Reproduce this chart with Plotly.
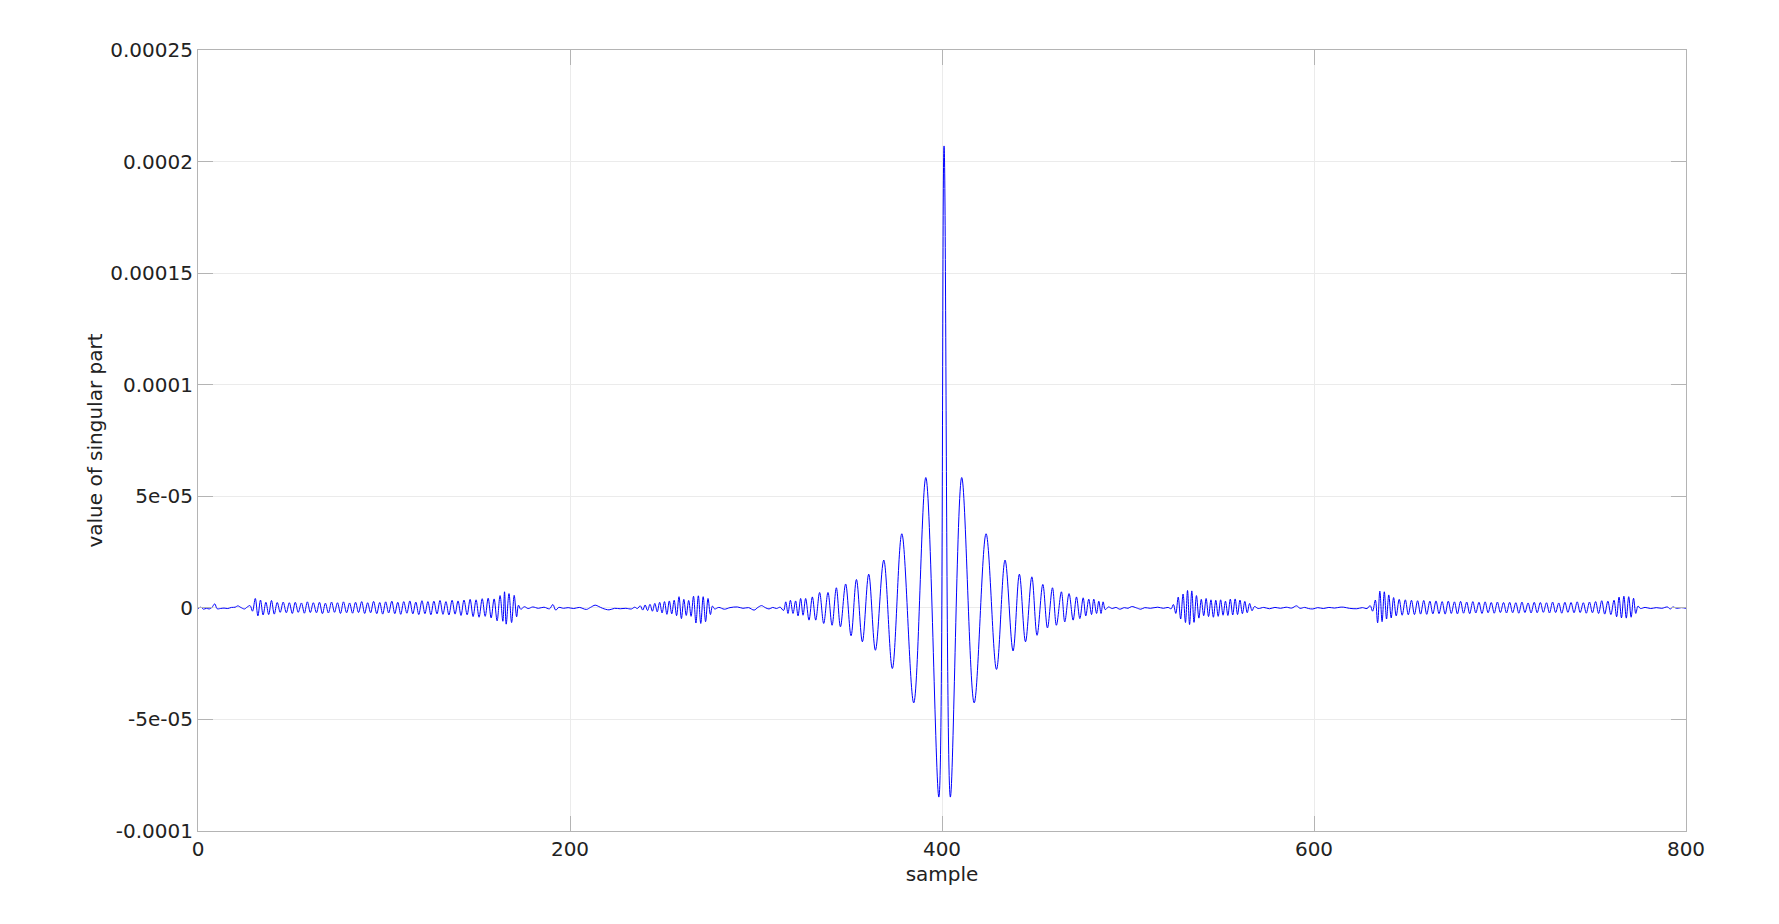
import plotly.graph_objects as go

# values in units of 1e-6 ; x in samples
UNIT = 1e-6

noise_a_x = [0, 1.5, 3, 4.5, 6, 7.5, 9, 10.3, 12, 14, 16, 18, 20, 21.4, 23, 25, 26.5]
noise_a_y = [-0.3, 0.3, -0.6, -0.2, -0.5, 0.2, 1.8, -0.4, -0.3, -0.1, -0.3, 0.2, 0.3, 0.9, 0.2, -0.5, 0.4]

left_start_x = [28.0, 29.3, 30.8, 32.2, 33.6, 35.0, 36.5, 38.0, 39.5, 41.0]
left_start_y = [1.0, -1.5, 4.2, -3.6, 3.5, -3.2, 2.5, -3.0, 3.3, -2.8]

left_band_x = [42.6, 44.2, 45.8, 47.5, 49.1, 50.7, 52.3, 53.9, 55.6, 57.2, 58.8, 60.4, 62.0, 63.7,
               65.3, 66.9, 68.5, 70.1, 71.8, 73.4, 75.0, 76.6, 78.2, 79.9, 81.5, 83.1, 84.7, 86.3,
               88.0, 89.6, 91.2, 92.8, 94.4, 96.1, 97.7, 99.3, 100.9, 102.5, 104.2, 105.8, 107.4,
               109.0, 110.6, 112.3, 113.9, 115.5, 117.1, 118.7, 120.4, 122.0, 123.6, 125.2, 126.8,
               128.5, 130.1, 131.7, 133.3, 134.9, 136.6, 138.2, 139.8, 141.4, 143.0, 144.7, 146.3,
               147.9, 149.5, 151.1, 152.8, 154.4, 156.0, 157.6, 159.2]
left_band_y = [2.4, -2.0, 2.6, -2.2, 2.3, -2.5, 2.5, -2.0, 2.2, -2.4,
               2.7, -2.1, 2.3, -2.2, 2.5, -2.6, 2.1, -2.3, 2.6, -2.0,
               2.3, -2.5, 2.7, -2.2, 2.2, -2.4, 2.5, -2.1, 2.8, -2.5,
               2.3, -2.2, 2.9, -2.6, 2.4, -2.8, 2.7, -2.3, 3.0, -2.6,
               2.5, -2.9, 2.8, -2.4, 3.1, -2.7, 2.6, -3.0, 3.2, -2.6,
               2.8, -3.1, 3.0, -2.7, 3.3, -2.9, 2.8, -3.2, 3.4, -2.8,
               3.1, -3.4, 3.5, -3.1, 3.8, -3.9, 3.6, -4.2, 4.1, -3.8,
               4.3, -4.5, 4.0]

left_end_x = [160.8, 162.4, 163.9, 164.8, 165.7, 167.2, 168.6, 170.0, 171.3, 172.3, 173.5]
left_end_y = [-5.8, 5.5, -6.0, 7.2, -7.3, 6.4, -6.6, 5.6, -4.0, 1.2, -0.6]

noise_b_x = [175.5, 177.5, 180, 183, 186, 189, 190.8, 192.3, 194, 196.5, 199, 202, 205, 208.8,
             211, 213.5, 215.5, 217.5, 221, 224, 227, 230, 233, 234.8, 236.2]
noise_b_y = [0.5, -0.3, 0.4, -0.2, 0.3, -0.4, 1.5, -1.0, 0.2, -0.2, 0.1, -0.3, 0.2, -0.7,
             0.2, 1.2, 0.6, -0.2, -0.9, -0.2, -0.4, -0.2, -0.5, 0.3, -0.3]

left_mid_x = [237.8, 239.1, 240.4, 241.7, 243.0, 244.3, 245.6, 246.9, 248.2, 249.5, 250.8, 252.1,
              253.4, 254.7, 256.0, 257.3, 258.6, 259.9, 261.2, 262.5, 263.8, 265.1, 266.4, 267.7,
              269.0, 270.3, 271.6, 272.9, 274.2, 275.5, 276.6, 277.8]
left_mid_y = [0.9, -1.0, 1.3, -1.2, 1.6, -1.5, 2.0, -1.8, 2.5, -2.3, 2.8, -2.9,
              3.1, -2.7, 3.4, -3.5, 5.0, -4.8, 3.8, -3.4, 3.3, -3.8, 5.2, -6.8,
              5.4, -7.0, 5.0, -6.2, 4.2, -3.0, 0.8, -0.5]

noise_c_x = [280, 283, 286, 290, 293, 296, 299, 301, 303, 305, 307, 309, 311, 313]
noise_c_y = [0.2, -0.6, 0.1, 0.4, -0.2, 0.1, -1.0, 0.2, 1.0, 0.1, -0.5, 0.2, -0.3, 0.3]

center_x = [314.8, 316.0, 317.2, 318.5, 319.9, 321.3, 322.6, 324.0, 325.3, 326.7, 328.5, 330.3,
            332.1, 334.2, 336.4, 338.7, 340.9, 343.2, 345.4, 348.2, 351.1, 354.0, 357.2, 360.6,
            364.2, 368.7, 373.3, 378.4, 384.8, 391.3, 398.3, 401.1, 404.5, 410.6, 417.3, 423.7,
            429.3, 433.9, 438.2, 441.6, 444.9, 448.3, 451.1, 454.2, 456.7, 459.4, 461.5, 464.2,
            466.0, 468.3, 470.5, 472.3, 474.1, 475.9, 477.3, 478.9, 480.4, 481.6, 483.1, 484.3,
            485.5, 486.6, 487.8]
center_y = [-1.2, 2.7, -2.5, 3.4, -2.5, 3.1, -3.6, 4.2, -3.3, 4.2, -5.5, 4.9,
            -5.5, 6.9, -7.0, 6.9, -7.8, 9.0, -8.5, 10.7, -12.5, 12.7, -15.2, 15.1,
            -19.0, 21.4, -27.2, 33.2, -42.6, 58.4, -84.8, 207.0, -84.8, 58.4, -42.6, 33.2,
            -27.6, 21.4, -19.3, 15.1, -15.2, 13.9, -12.3, 10.5, -9.0, 9.0, -7.8, 7.2,
            -6.3, 6.4, -5.5, 4.9, -4.8, 4.5, -3.6, 3.9, -3.0, 3.9, -2.5, 3.0,
            -2.5, 2.7, -0.8]

noise_d_x = [489.5, 491.5, 493.5, 495.6, 498, 500, 502, 504.5, 506.9, 509, 512, 516, 519, 521.5, 523.2]
noise_d_y = [0.4, -0.3, 0.2, -0.6, 0.1, -0.2, 0.6, 0.0, -0.6, 0.1, -0.2, 0.3, -0.2, 0.2, -0.4]

right_mid_x = [524.4, 525.7, 527.0, 528.3, 529.6, 530.9, 532.0, 533.1, 534.3, 535.5, 536.8, 538.1,
               539.4, 540.7, 542.0, 543.3, 544.6, 545.9, 547.2, 548.5, 549.8, 551.1, 552.4, 553.7,
               555.0, 556.3, 557.6, 558.9, 560.2, 561.5, 562.8, 564.1, 565.4, 566.7, 568.0]
right_mid_y = [1.5, -2.5, 4.8, -5.0, 6.2, -6.6, 7.8, -7.5, 7.6, -6.5, 5.5, -4.6,
               3.8, -3.5, 4.2, -3.9, 3.6, -4.2, 3.4, -3.8, 3.6, -3.3, 3.0, -3.4,
               3.9, -3.2, 4.0, -3.0, 3.5, -2.6, 2.9, -2.2, 2.0, -1.3, 0.6]

noise_e_x = [570, 573, 576, 579, 582, 585, 588, 590.6, 592.5, 595, 597, 599.4, 602, 605, 608, 611,
             614, 616, 619, 623, 626, 628.5]
noise_e_y = [-0.3, 0.2, -0.4, 0.2, -0.2, 0.3, -0.1, 0.9, -0.2, 0.2, -0.3, -0.5, 0.1, -0.3, 0.2, -0.1,
             0.3, 0.3, -0.2, -0.4, 0.1, -0.3]

right_start_x = [630.2, 631.5, 633.0, 634.2, 635.4, 636.6, 637.8, 639.0, 640.2, 641.5, 642.8, 644.2]
right_start_y = [1.0, -1.5, 3.5, -6.7, 7.5, -6.2, 7.2, -5.0, 5.8, -4.5, 4.6, -3.6]

right_band_x = [645.8, 647.4, 649.1, 650.7, 652.4, 654.0, 655.7, 657.3, 659.0, 660.6, 662.3, 663.9,
                665.6, 667.2, 668.9, 670.5, 672.2, 673.8, 675.5, 677.1, 678.8, 680.4, 682.1, 683.7,
                685.4, 687.0, 688.7, 690.3, 692.0, 693.6, 695.3, 696.9, 698.6, 700.2, 701.9, 703.5,
                705.2, 706.8, 708.5, 710.1, 711.8, 713.4, 715.1, 716.7, 718.4, 720.0, 721.7, 723.3,
                725.0, 726.6, 728.3, 729.9, 731.6, 733.2, 734.9, 736.5, 738.2, 739.8, 741.5, 743.1,
                744.8, 746.4, 748.1, 749.7, 751.4, 753.0, 754.7, 756.3, 758.0, 759.6, 761.3]
right_band_y = [3.8, -3.3, 3.6, -3.1, 3.4, -3.0, 3.2, -2.8, 3.3, -2.9,
                3.0, -2.7, 3.1, -2.6, 2.8, -2.8, 3.0, -2.5, 2.7, -2.7,
                2.9, -2.4, 2.6, -2.6, 2.8, -2.3, 2.5, -2.5, 2.7, -2.2,
                2.4, -2.4, 2.6, -2.1, 2.4, -2.3, 2.5, -2.2, 2.3, -2.4,
                2.6, -2.1, 2.2, -2.3, 2.5, -2.2, 2.4, -2.0, 2.3, -2.3,
                2.6, -2.1, 2.2, -2.4, 2.5, -2.0, 2.4, -2.2, 2.7, -2.1,
                2.3, -2.4, 2.6, -2.2, 2.8, -2.5, 3.2, -2.8, 3.0, -3.0,
                3.4]

right_end_x = [762.7, 764.0, 765.3, 766.6, 767.9, 769.2, 770.5, 771.8, 773.0, 774.2, 775.5]
right_end_y = [-4.0, 4.8, -4.5, 5.2, -4.6, 5.0, -4.2, 4.3, -2.5, 0.8, -0.3]

noise_f_x = [778, 781, 784, 787, 790, 791.5, 793, 795, 797.5, 800]
noise_f_y = [0.2, -0.3, 0.1, -0.2, 0.4, -0.5, 0.4, -0.2, 0.1, -0.2]

x_ticks = [0, 200, 400, 600, 800]
y_ticks = [-0.0001, -0.00005, 0, 0.00005, 0.0001, 0.00015, 0.0002, 0.00025]
y_ticktext = ["-0.0001", "-5e-05", "0", "5e-05", "0.0001", "0.00015", "0.0002", "0.00025"]

segments_x = [noise_a_x, left_start_x, left_band_x, left_end_x, noise_b_x, left_mid_x, noise_c_x,
              center_x, noise_d_x, right_mid_x, noise_e_x, right_start_x, right_band_x,
              right_end_x, noise_f_x]
segments_y = [noise_a_y, left_start_y, left_band_y, left_end_y, noise_b_y, left_mid_y, noise_c_y,
              center_y, noise_d_y, right_mid_y, noise_e_y, right_start_y, right_band_y,
              right_end_y, noise_f_y]

xs, ys = [], []
for sx, sy in zip(segments_x, segments_y):
    assert len(sx) == len(sy), (len(sx), len(sy))
    xs.extend(sx)
    ys.extend(v * UNIT for v in sy)

fig = go.Figure()
fig.add_trace(go.Scatter(x=xs, y=ys, mode="lines",
                         line=dict(color="#0000ff", width=1, shape="spline", smoothing=1.0),
                         hoverinfo="skip", showlegend=False))

font = dict(family="DejaVu Sans", size=20, color="#222222")
axis_common = dict(showgrid=True, gridcolor="#ebebeb", gridwidth=1, zeroline=False,
                   showline=True, linecolor="#b4b4b4", linewidth=1, mirror="ticks",
                   ticks="inside", ticklen=15, tickcolor="#b4b4b4", tickfont=font)

fig.update_layout(
    width=1779, height=924,
    margin=dict(l=198, r=93, t=50, b=93),
    paper_bgcolor="white", plot_bgcolor="white",
    font=font,
    xaxis=dict(range=[0, 800], tickvals=x_ticks, ticktext=[str(t) for t in x_ticks],
               title=dict(text="sample", font=font, standoff=6), **axis_common),
    yaxis=dict(range=[-0.0001, 0.00025], tickvals=y_ticks, ticktext=y_ticktext,
               title=dict(text="value of singular part", font=font, standoff=2), **axis_common),
)

fig.write_html("out.html", config={"displayModeBar": False},
               post_script="document.body.style.margin='0';")
